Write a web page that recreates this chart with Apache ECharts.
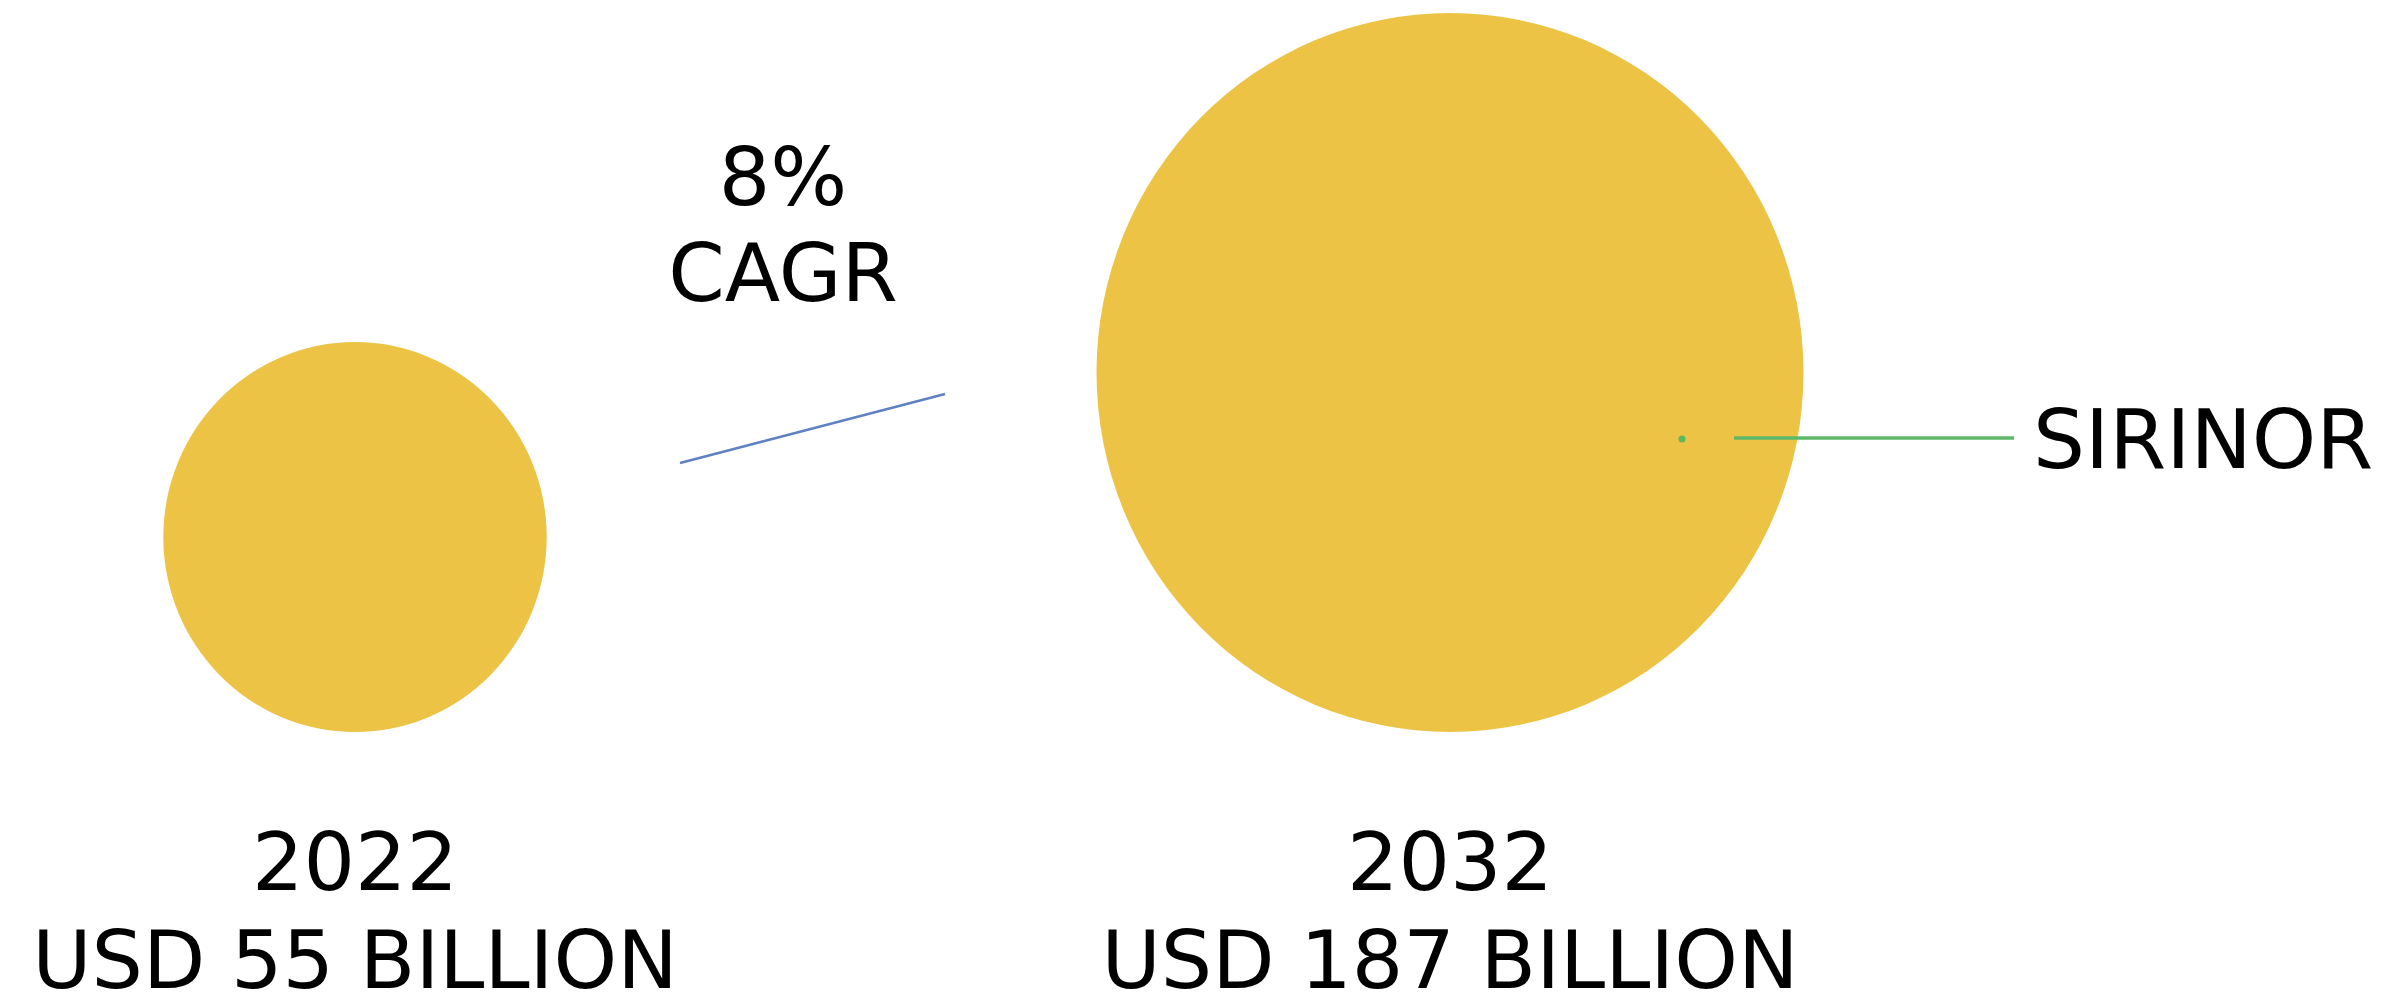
<!DOCTYPE html>
<html>
<head>
<meta charset="utf-8">
<script src="https://cdn.jsdelivr.net/npm/echarts@6/dist/echarts.min.js"></script>
<style>
html,body{margin:0;padding:0;background:#fff;}
#chart{width:2397px;height:1008px;}
</style>
</head>
<body>
<div id="chart"></div>
<script>
// ---- data ----
const years = [2022, 2032];
const values = [55, 187];           // USD billion
const valueLabels = ['USD 55 BILLION', 'USD 187 BILLION'];
const cagrText = ['8%', 'CAGR'];
const annotationText = 'SIRINOR';

// ---- styling ----
const FONT = 'DejaVu Sans';
const YELLOW = '#ECC344';
const SIZE_K = 51.7;    // diameter per sqrt(value) -> area proportional
const ASPECT = 1.017;   // reference is slightly stretched vertically

const chart = echarts.init(document.getElementById('chart'), null, {renderer: 'canvas'});

const bubbleData = years.map((y, i) => [y, 0, values[i]]);
const labelData = years.map((y, i) => ({value: [y, 0], label: {formatter: y + '\n' + valueLabels[i]}}));

chart.setOption({
  animation: false,
  backgroundColor: '#ffffff',
  grid: {left: 355, right: 947, top: 0, bottom: 276, outerBoundsMode: 'none'},
  xAxis: {type: 'value', min: years[0], max: years[1], show: false},
  yAxis: {type: 'value', min: 0, max: 1, show: false},
  series: [
    {
      type: 'scatter',
      clip: false,
      data: bubbleData,
      symbol: 'circle',
      symbolSize: v => [SIZE_K * Math.sqrt(v[2]), SIZE_K * ASPECT * Math.sqrt(v[2])],
      symbolOffset: [0, '-50%'],
      itemStyle: {color: YELLOW, opacity: 1},
      emphasis: {disabled: true},
      z: 2
    },
    {
      type: 'scatter',
      clip: false,
      data: labelData,
      symbolSize: 1,
      itemStyle: {color: 'rgba(255,255,255,0)'},
      label: {
        show: true,
        position: 'bottom',
        distance: 87,
        fontFamily: FONT,
        fontSize: 81,
        lineHeight: 98,
        color: '#000000',
        opacity: 1,
        textBorderWidth: 0,
        align: 'center'
      },
      emphasis: {disabled: true},
      z: 3
    }
  ],
  graphic: [
    {type: 'line', shape: {x1: 680, y1: 463, x2: 945, y2: 394},
     style: {stroke: '#5f80c2', lineWidth: 2.5}, z: 5},
    {type: 'text', x: 783, y: 136, style: {text: cagrText.join('\n'), font: '81px "' + FONT + '"',
      lineHeight: 96, fill: '#000', textAlign: 'center', textVerticalAlign: 'top'}, z: 5},
    {type: 'circle', shape: {cx: 1682, cy: 439, r: 3.5}, style: {fill: '#5cb85c'}, z: 6},
    {type: 'line', shape: {x1: 1734, y1: 438, x2: 2014, y2: 438},
     style: {stroke: '#5fb86a', lineWidth: 3.5}, z: 6},
    {type: 'text', x: 2033, y: 447, style: {text: annotationText, font: '82px "' + FONT + '"',
      fill: '#000', textAlign: 'left', textVerticalAlign: 'middle'}, z: 6}
  ]
});
</script>
</body>
</html>
